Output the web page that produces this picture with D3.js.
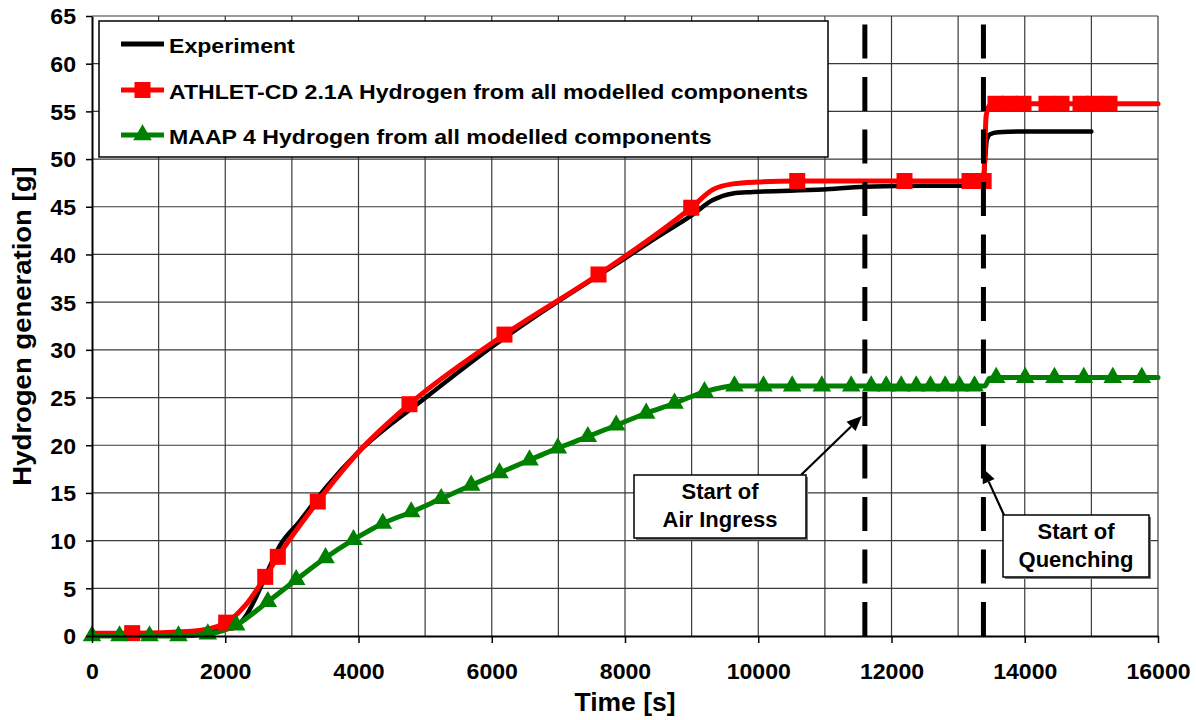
<!DOCTYPE html>
<html>
<head>
<meta charset="utf-8">
<script src="https://cdn.jsdelivr.net/npm/d3@7"></script>
<style>
  html, body { margin: 0; padding: 0; background: #fff; }
  svg { display: block; }
  text { font-family: "Liberation Sans", Arial, Helvetica, sans-serif; font-weight: bold; fill: #000; }
</style>
</head>
<body>
<svg id="chart" width="1196" height="720"></svg>
<script>
// ---- axis ticks ----
const xTickValues = [0, 2000, 4000, 6000, 8000, 10000, 12000, 14000, 16000];
const xTickLabels = ["0", "2000", "4000", "6000", "8000", "10000", "12000", "14000", "16000"];
const xGridValues = [1000, 2000, 3000, 4000, 5000, 6000, 7000, 8000, 9000, 10000,
                     11000, 12000, 13000, 14000, 15000, 16000];
const yTickValues = [0, 5, 10, 15, 20, 25, 30, 35, 40, 45, 50, 55, 60, 65];
const yTickLabels = ["0", "5", "10", "15", "20", "25", "30", "35", "40", "45", "50", "55", "60", "65"];

// ---- series: time [s] and hydrogen mass [g]; mark = 1 where a symbol is drawn ----
const seriesNames = [
  "Experiment",
  "ATHLET-CD 2.1A Hydrogen from all modelled components",
  "MAAP 4 Hydrogen from all modelled components"
];

const expTime = [0, 1000, 1700, 2000, 2164, 2300, 2464, 2650, 2814, 3114, 3515, 4000, 4991,
                 6000, 6716, 7000, 8000, 8500, 9000, 9318, 9618, 9918, 10970, 11595, 12500,
                 13360, 13400, 13430, 13480, 13600, 14000, 15000];
const expH2 = [0.2, 0.2, 0.4, 0.7, 1.0, 2.0, 4.1, 7.0, 9.4, 12.0, 15.6, 19.3, 24.9,
               30.3, 33.8, 35.1, 39.6, 41.9, 44.1, 45.7, 46.4, 46.55, 46.8, 47.1, 47.2,
               47.2, 49.5, 52.0, 52.6, 52.8, 52.9, 52.9];

const athTime = [0, 603, 1500, 2014, 2300, 2600, 2789, 3389, 4015, 4765, 6191, 7602, 8994,
                 9318, 9618, 10000, 10585, 12195, 13171, 13383, 13420, 13470, 13561, 13771,
                 13981, 14326, 14552, 14837, 15047, 15272, 16000];
const athH2 = [0.3, 0.3, 0.5, 1.4, 3.2, 6.2, 8.3, 14.1, 19.4, 24.3, 31.6, 37.9, 44.9,
               46.8, 47.4, 47.6, 47.7, 47.7, 47.7, 47.7, 54.5, 55.6, 55.8, 55.8,
               55.8, 55.8, 55.8, 55.8, 55.8, 55.8, 55.8];
const athMark = [0, 1, 0, 1, 0, 1, 1, 1, 0, 1, 1, 1, 1,
                 0, 0, 0, 1, 1, 1, 1, 0, 0, 1, 1,
                 1, 1, 1, 1, 1, 1, 0];

const maapTime = [0, 413, 863, 1298, 1738, 2164, 2639, 3065, 3505, 3925, 4365, 4791, 5241,
                  5691, 6116, 6567, 6992, 7442, 7868, 8318, 8743, 9193, 9643, 10079, 10509,
                  10954, 11395, 11695, 11920, 12146, 12371, 12585, 12806, 13021, 13246,
                  13400, 13470, 13571, 14006, 14446, 14886, 15321, 15757, 16000];
const maapH2 = [0, 0, 0, 0, 0.2, 1.15, 3.6, 5.9, 8.2, 10.1, 11.8, 13.0, 14.4,
                15.8, 17.1, 18.45, 19.7, 20.9, 22.1, 23.35, 24.4, 25.6, 26.2, 26.2, 26.2,
                26.2, 26.2, 26.2, 26.2, 26.2, 26.2, 26.2, 26.2, 26.2, 26.2,
                26.2, 27.0, 27.1, 27.1, 27.1, 27.1, 27.1, 27.1, 27.1];
const maapMark = [1, 1, 1, 1, 1, 1, 1, 1, 1, 1, 1, 1, 1,
                  1, 1, 1, 1, 1, 1, 1, 1, 1, 1, 1, 1,
                  1, 1, 1, 1, 1, 1, 1, 1, 1, 1,
                  0, 0, 1, 1, 1, 1, 1, 1, 0];

// ---- events ----
const eventTimes = [11600, 13380];
const eventLabels = [["Start of", "Air Ingress"], ["Start of", "Quenching"]];

// ---- colours ----
const colExp = "#000000", colAth = "#ff0000", colMaap = "#008000";

// ---- layout ----
const svg = d3.select("#chart");
const plot = { left: 92, right: 1158, top: 16, bottom: 636 };
const x = d3.scaleLinear().domain([0, 16000]).range([plot.left, plot.right]);
const y = d3.scaleLinear().domain([0, 65]).range([plot.bottom, plot.top]);

// widen text slightly so the bold face runs as broad as the printed chart
function stretch(sel, k) {
  sel.each(function () {
    const w = this.getComputedTextLength();
    this.setAttribute("textLength", w * k);
    this.setAttribute("lengthAdjust", "spacingAndGlyphs");
  });
}

const zip = (t, v, m) => t.map((d, i) => ({ t: d, v: v[i], m: m ? m[i] : 0 }));
const expData = zip(expTime, expH2);
const athData = zip(athTime, athH2, athMark);
const maapData = zip(maapTime, maapH2, maapMark);

// ---- grid ----
const grid = svg.append("g").attr("stroke", "#3a3a3a").attr("stroke-width", 1.2);
grid.selectAll("line.v").data(xGridValues).join("line")
  .attr("x1", d => x(d)).attr("x2", d => x(d))
  .attr("y1", y(0)).attr("y2", y(65));
grid.selectAll("line.h").data(yTickValues.filter(d => d > 0)).join("line")
  .attr("x1", x(0)).attr("x2", x(16000))
  .attr("y1", d => y(d)).attr("y2", d => y(d));

// ---- series ----
const line = d3.line().x(d => x(d.t)).y(d => y(d.v)).curve(d3.curveMonotoneX);
const series = svg.append("g").attr("fill", "none").attr("stroke-linejoin", "round").attr("stroke-linecap", "round");
series.append("path").datum(expData).attr("d", line).attr("stroke", colExp).attr("stroke-width", 4.5);
series.append("path").datum(athData).attr("d", line).attr("stroke", colAth).attr("stroke-width", 5);
series.append("path").datum(maapData).attr("d", line).attr("stroke", colMaap).attr("stroke-width", 5);

const sq = 16;
svg.append("g").selectAll("rect").data(athData.filter(d => d.m)).join("rect")
  .attr("x", d => x(d.t) - sq / 2).attr("y", d => y(d.v) - sq / 2)
  .attr("width", sq).attr("height", sq).attr("fill", colAth);

const tri = d3.symbol().type(d3.symbolTriangle).size(150);
svg.append("g").selectAll("path").data(maapData.filter(d => d.m)).join("path")
  .attr("transform", d => `translate(${x(d.t)},${y(d.v)})`)
  .attr("d", tri).attr("fill", colMaap);

// ---- event lines ----
svg.append("g").selectAll("line").data(eventTimes).join("line")
  .attr("x1", d => x(d)).attr("x2", d => x(d))
  .attr("y1", y(0)).attr("y2", y(65))
  .attr("stroke", "#000").attr("stroke-width", 5)
  .attr("stroke-dasharray", "34 18.5");

// ---- event annotations: callout box + arrow to the event line ----
const callouts = [
  { box: [634, 475, 172, 63], from: [801, 475], to: [x(eventTimes[0]) - 3, 416] },
  { box: [1003, 515, 146, 62], from: [1004, 515], to: [x(eventTimes[1]) - 1, 468] }
];
const ann = svg.append("g");
callouts.forEach((c, i) => {
  const [bx, by, bw, bh] = c.box;
  const [x1, y1] = c.from, [x2, y2] = c.to;
  const ang = Math.atan2(y2 - y1, x2 - x1);
  const hl = 15, hw = 6.5;
  const bxp = x2 - hl * Math.cos(ang), byp = y2 - hl * Math.sin(ang);
  ann.append("line").attr("x1", x1).attr("y1", y1).attr("x2", bxp).attr("y2", byp)
    .attr("stroke", "#000").attr("stroke-width", 2.2);
  ann.append("path")
    .attr("d", `M${x2},${y2}L${bxp + hw * Math.sin(ang)},${byp - hw * Math.cos(ang)}L${bxp - hw * Math.sin(ang)},${byp + hw * Math.cos(ang)}Z`)
    .attr("fill", "#000");
  ann.append("rect").attr("x", bx + 2).attr("y", by + 2).attr("width", bw).attr("height", bh).attr("fill", "#7a7a7a");
  ann.append("rect").attr("x", bx).attr("y", by).attr("width", bw).attr("height", bh)
    .attr("fill", "#fff").attr("stroke", "#000").attr("stroke-width", 1.5);
  eventLabels[i].forEach((s, j) => {
    ann.append("text").attr("x", bx + bw / 2).attr("y", by + 23.5 + j * 28.5)
      .attr("text-anchor", "middle").attr("font-size", 22).text(s);
  });
});

// ---- legend ----
const legend = svg.append("g");
legend.append("rect").attr("x", 99).attr("y", 21).attr("width", 729).attr("height", 136)
  .attr("fill", "#fff").attr("stroke", "#000").attr("stroke-width", 1.5);
const legRows = [44, 90, 135];
const legCols = [colExp, colAth, colMaap];
seriesNames.forEach((name, i) => {
  const ly = legRows[i];
  legend.append("line").attr("x1", 121).attr("x2", 164).attr("y1", ly).attr("y2", ly)
    .attr("stroke", legCols[i]).attr("stroke-width", 5);
  if (i === 1) legend.append("rect").attr("x", 142.5 - 8).attr("y", ly - 8).attr("width", 16).attr("height", 16).attr("fill", colAth);
  if (i === 2) legend.append("path").attr("transform", `translate(142.5,${ly})`).attr("d", tri).attr("fill", colMaap);
  legend.append("text").attr("x", 169).attr("y", ly + 8.5).attr("font-size", 21).text(name).call(stretch, 1.1);
});

// ---- axes ----
const xAxis = d3.axisBottom(x).tickValues(xTickValues).tickFormat((d, i) => xTickLabels[i])
  .tickSize(7).tickSizeOuter(0);
const gx = svg.append("g").attr("transform", `translate(0,${plot.bottom})`).call(xAxis);
gx.select(".domain").attr("stroke-width", 2);
gx.selectAll(".tick line").attr("stroke-width", 1.5);
gx.selectAll("text").attr("y", 43).attr("dy", null).attr("font-size", 22)
  .attr("font-family", null).call(stretch, 1.05);

const yAxis = d3.axisLeft(y).tickValues(yTickValues).tickFormat((d, i) => yTickLabels[i])
  .tickSize(6).tickSizeOuter(0);
const gy = svg.append("g").attr("transform", `translate(${plot.left},0)`).call(yAxis);
gy.select(".domain").attr("stroke-width", 2);
gy.selectAll(".tick line").attr("stroke-width", 1.5);
gy.selectAll("text").attr("x", -16).attr("dy", "0.36em").attr("font-size", 22)
  .attr("font-family", null).call(stretch, 1.05);
svg.selectAll(".tick text").attr("fill", "#000");
svg.selectAll("g[font-size]").attr("font-size", null).attr("font-family", null);

// ---- axis titles ----
svg.append("text").attr("x", (plot.left + plot.right) / 2).attr("y", 711)
  .attr("text-anchor", "middle").attr("font-size", 25).text("Time [s]").call(stretch, 1.06);
svg.append("text").attr("transform", `translate(31,${(plot.top + plot.bottom) / 2}) rotate(-90)`)
  .attr("text-anchor", "middle").attr("font-size", 25).text("Hydrogen generation [g]").call(stretch, 1.1);
</script>
</body>
</html>
